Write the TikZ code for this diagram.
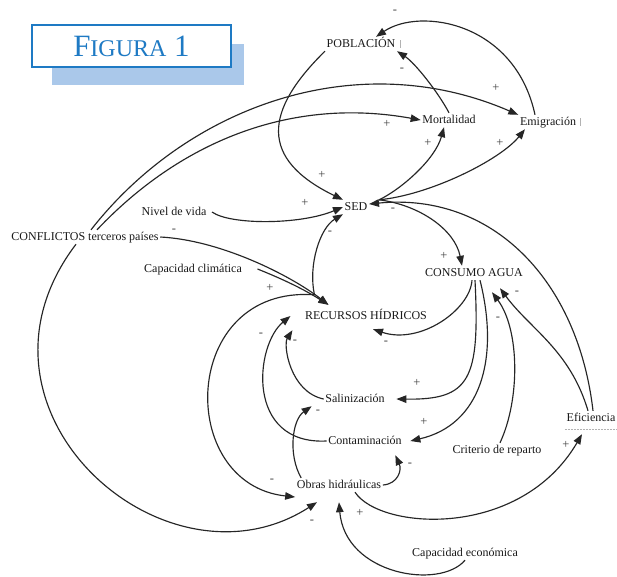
\documentclass[tikz,border=0pt]{standalone}
\usepackage{fontspec}
\setmainfont{Liberation Serif}
\usetikzlibrary{arrows.meta}
\definecolor{figBlue}{RGB}{30,122,196}
\definecolor{figShadow}{RGB}{170,200,234}
\newcommand{\plusSign}[0]{+}
\newcommand{\minusSign}[0]{-}

\begin{document}
\begin{tikzpicture}[x=1pt, y=1pt]
  \tikzset{var/.style={font=\fontsize{12}{14}\selectfont, text=black!90, inner sep=1.5pt, text height=8.5pt, text depth=2.5pt},
           sign/.style={font=\fontsize{12.5}{12.5}\selectfont, text=black!75, inner sep=0pt},
           link/.style={draw=black!85, line width=1.15pt, -{Triangle[length=10pt,width=7.5pt]}},
           tick/.style={draw=black!30, line width=0.5pt}}
  \useasboundingbox (0,0) rectangle (617,-576);
  \fill[white] (0,0) rectangle (617,-576);

  \node[fill=figShadow, inner sep=0pt, minimum width=192pt, minimum height=41pt] (shadow) at (148,-64.5) {};
  \node[draw=figBlue, line width=1.3pt, fill=white, text=figBlue, inner sep=0pt, minimum width=199pt, minimum height=42pt] (title) at (131.5,-46)
    {\fontsize{31}{31}\selectfont F\fontsize{24}{24}\selectfont IGURA\fontsize{31}{31}\selectfont{} 1};

  \node[var] (pob) at (361,-44) {POBLACIÓN};
  \node[var] (mort) at (449,-120) {Mortalidad};
  \node[var] (emig) at (548,-122) {Emigración};
  \node[var] (sed) at (356,-207) {SED};
  \node[var] (cons) at (474,-273) {CONSUMO AGUA};
  \node[var] (rec) at (366,-316) {RECURSOS HÍDRICOS};
  \node[var] (nivel) at (174,-212) {Nivel de vida};
  \node[var] (confl) at (85,-237) {CONFLICTOS terceros países};
  \node[var] (clima) at (193,-269) {Capacidad climática};
  \node[var] (sal) at (355,-399) {Salinización};
  \node[var] (cont) at (365,-441) {Contaminación};
  \node[var] (obras) at (339,-485) {Obras hidráulicas};
  \node[var] (econ) at (465,-553) {Capacidad económica};
  \node[var] (crit) at (497,-450) {Criterio de reparto};
  \node[var] (efic) at (591,-418) {Eficiencia};

  \coordinate (recIn) at ([xshift=25pt,yshift=4pt]rec.north west);
  \coordinate (recOut) at ([xshift=11pt,yshift=14pt]rec.north west);
  \coordinate (sedOut) at ([xshift=10pt]sed.north east);

  \draw[tick] ([xshift=3pt,yshift=4pt]pob.east) -- ([xshift=3pt,yshift=-4pt]pob.east);
  \draw[tick] ([xshift=3pt,yshift=4pt]emig.east) -- ([xshift=3pt,yshift=-4pt]emig.east);
  \draw[tick, densely dotted] ([yshift=-4pt]efic.south west) -- ([yshift=-4pt]efic.south east);

  \draw[link] (pob.south west) .. controls (264,-111) and (259,-159) .. (sed.north west);
  \draw[link] (mort.north) .. controls (438,-92) and (415,-63) .. (pob.south east);
  \draw[link] ([xshift=-13pt]emig.north) .. controls (515,-22) and (420,-7) .. ([xshift=15pt]pob.north);
  \draw[link] (sedOut) .. controls (400,-190) and (435,-160) .. ([xshift=-5pt]mort.south);
  \draw[link] (sedOut) .. controls (430,-195) and (500,-160) .. ([xshift=-23pt]emig.south);
  \draw[link] ([xshift=12pt]confl.north) .. controls (178,-144) and (288,-96) .. (mort.west);
  \draw[link] ([xshift=6pt]confl.north) .. controls (188,-106) and (357,-45) .. (emig.north west);
  \draw[link] ([xshift=-9pt]confl.south) .. controls (-50,-410) and (165,-600) .. ([xshift=-22pt,yshift=-10pt]obras.south);
  \draw[link] (confl.east) .. controls (220,-240) and (290,-275) .. (recIn);
  \draw[link] ([xshift=14pt]clima.east) .. controls (285,-280) and (305,-290) .. (recIn);
  \draw[link] ([xshift=4pt]nivel.east) .. controls (230,-225) and (300,-225) .. (sed.west);
  \draw[link] (recOut) .. controls (308,-265) and (320,-228) .. (sed.south west);
  \draw[link] ([xshift=2pt]efic.north) .. controls (578,-281) and (493,-192) .. ([yshift=3pt]sed.east);
  \draw[link] ([xshift=-3pt]efic.north) .. controls (570,-350) and (530,-329) .. ([xshift=26pt,yshift=-8pt]cons.south);
  \draw[link] (sedOut) .. controls (420,-205) and (455,-230) .. ([xshift=-12pt]cons.north);
  \draw[link] ([xshift=-2pt]cons.south) .. controls (470,-310) and (420,-345) .. ([xshift=7pt,yshift=-6pt]rec.south);
  \draw[link] ([xshift=1pt]cons.south) .. controls (480,-380) and (470,-400) .. ([xshift=10pt]sal.east);
  \draw[link] ([xshift=6pt]cons.south) .. controls (500,-360) and (480,-425) .. ([xshift=7pt]cont.east);
  \draw[link] ([xshift=3pt]crit.north) .. controls (520,-400) and (520,-330) .. ([xshift=18pt,yshift=-12pt]cons.south);
  \draw[link] (sal.west) .. controls (290,-392) and (283,-345) .. ([xshift=-11pt,yshift=-7pt]rec.south west);
  \draw[link] (cont.west) .. controls (245,-445) and (255,-345) .. ([xshift=-13pt]rec.west);
  \draw[link] ([xshift=6pt]obras.north west) .. controls (288,-455) and (292,-420) .. ([xshift=-12pt]sal.south west);
  \draw[link] (obras.east) .. controls (398,-484) and (402,-470) .. ([xshift=-8pt,yshift=-7pt]cont.south east);
  \draw[link] ([xshift=16pt]obras.south) .. controls (380,-530) and (520,-540) .. ([xshift=-9pt,yshift=-9pt]efic.south);
  \draw[link] (econ.south) .. controls (440,-590) and (345,-575) .. ([yshift=-10pt]obras.south);
  \draw[link] (recOut) .. controls (180,-285) and (175,-484) .. ([yshift=-12pt]obras.west);

  \node[sign] (g1) at (395,-12) {\minusSign};
  \node[sign] (g2) at (402,-70) {\minusSign};
  \node[sign] (g3) at (322,-175) {\plusSign};
  \node[sign] (g4) at (305,-203) {\plusSign};
  \node[sign] (g5) at (387,-124) {\plusSign};
  \node[sign] (g6) at (496,-88) {\plusSign};
  \node[sign] (g7) at (428,-143) {\plusSign};
  \node[sign] (g8) at (500,-143) {\plusSign};
  \node[sign] (g9) at (393,-210) {\minusSign};
  \node[sign] (g10) at (330,-233) {\minusSign};
  \node[sign] (g11) at (444,-256) {\plusSign};
  \node[sign] (g12) at (174,-231) {\minusSign};
  \node[sign] (g13) at (270,-288) {\plusSign};
  \node[sign] (g14) at (517,-293) {\minusSign};
  \node[sign] (g15) at (498,-319) {\minusSign};
  \node[sign] (g16) at (386,-343) {\minusSign};
  \node[sign] (g17) at (261,-335) {\minusSign};
  \node[sign] (g18) at (295,-342) {\minusSign};
  \node[sign] (g19) at (417,-383) {\plusSign};
  \node[sign] (g20) at (424,-422) {\plusSign};
  \node[sign] (g21) at (318,-412) {\minusSign};
  \node[sign] (g22) at (410,-465) {\minusSign};
  \node[sign] (g23) at (272,-481) {\minusSign};
  \node[sign] (g24) at (312,-522) {\minusSign};
  \node[sign] (g25) at (360,-513) {\plusSign};
  \node[sign] (g26) at (566,-445) {\plusSign};
\end{tikzpicture}
\end{document}
